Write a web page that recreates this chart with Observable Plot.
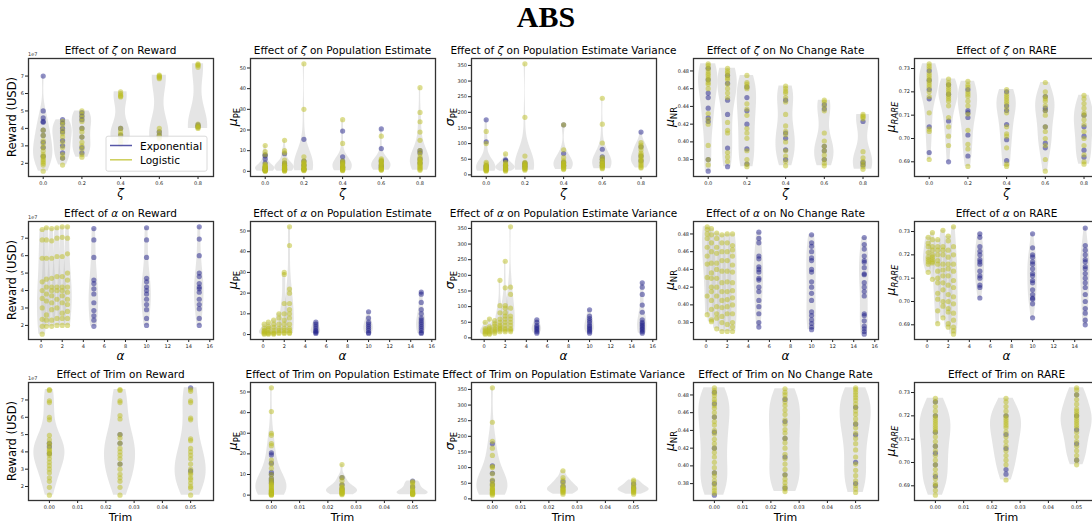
<!DOCTYPE html>
<html><head><meta charset="utf-8">
<script src="https://cdn.jsdelivr.net/npm/d3@7"></script>
<script src="https://cdn.jsdelivr.net/npm/@observablehq/plot@0.6"></script>
<style>
body{margin:0;background:#fff;font-family:"DejaVu Sans",sans-serif;}
#fig{position:relative;width:1092px;height:523px;overflow:hidden;background:#fff;}
#title{position:absolute;left:0;top:0;width:1092px;text-align:center;font:bold 30px "Liberation Serif","Times New Roman",serif;line-height:34px;color:#000;}
.panel{position:absolute;}
.panel svg{overflow:visible;max-width:none;}
</style></head><body><div id="fig"><div id="title">ABS</div></div>
<script>
// ---------- parameter positions & ticks ----------
const zeta = [0, 0.1, 0.2, 0.4, 0.6, 0.8];
const alphaLog = [0.1, 0.5, 1, 1.5, 2, 2.5];
const alphaExp = [5, 10, 15];
const trim = [0, 0.025, 0.05];

const xTicksZeta = [0, 0.2, 0.4, 0.6, 0.8];
const xTicksAlpha = [0, 2, 4, 6, 8, 10, 12, 14, 16];
const xTicksTrim = [0, 0.01, 0.02, 0.03, 0.04, 0.05];
const yTicksReward = [2, 3, 4, 5, 6, 7];
const yTicksPE = [0, 10, 20, 30, 40, 50];
const yTicksSD = [0, 50, 100, 150, 200, 250, 300, 350];
const yTicksNR = [0.38, 0.40, 0.42, 0.44, 0.46, 0.48];
const yTicksRARE = [0.69, 0.70, 0.71, 0.72, 0.73];

// ---------- Row 1: effect of zeta ----------
const rewardZetaExp = [
 [7.0, 5.0, 4.6, 4.4, 4.35, 3.9, 3.6, 3.2, 2.9, 2.4],
 [4.5, 4.3, 4.0, 3.8, 3.3, 3.0, 2.6, 2.3],
 [4.9, 4.7, 4.5, 4.0, 3.5, 2.9, 2.6],
 [4.0, 3.6],
 [3.8, 3.6],
 [4.2, 4.1]];
const rewardZetaLog = [
 [3.9, 3.6, 3.3, 3.1, 2.9, 2.7, 2.5, 2.4, 2.3, 2.2, 2.1, 2.0, 1.9, 1.55],
 [4.4, 4.2, 3.9, 3.7, 3.5, 3.2, 2.9, 2.5, 2.3, 1.9],
 [5.0, 4.8, 4.6, 4.4, 4.0, 3.8, 3.5, 3.2, 3.0, 2.8, 2.5, 2.35],
 [6.1, 6.0, 5.9, 5.85, 5.8, 4.0, 3.8, 3.65, 3.5, 3.3, 3.1],
 [7.05, 7.0, 6.95, 6.9, 6.85, 4.0, 3.8, 3.6, 3.5, 3.4],
 [7.7, 7.65, 7.6, 7.5, 4.25, 4.15, 4.1, 4.05, 4.0]];
const peZetaExp = [
 [8, 7.5, 6, 4, 2, 1, 0.5],
 [8.5, 4, 3, 1],
 [15.5, 5, 3, 1],
 [19.5, 7, 5, 4, 2],
 [20.5, 11, 5, 3, 2],
 [10, 9, 6, 4]];
const peZetaLog = [
 [12.5, 9.5, 8, 3.5, 3, 2.5, 2.2, 2, 1.8, 1.5, 1.2, 1, 0.8, 0.6, 0.5, 0.3, 0.2, 0.1],
 [15, 10, 9, 5.5, 4, 3.5, 3, 2.5, 2, 1.8, 1.5, 1.2, 1, 0.8, 0.5, 0.3, 0.1],
 [52, 30, 7, 5, 4.5, 4, 3.5, 3, 2.5, 2, 1.5, 1.2, 1, 0.8, 0.5, 0.3],
 [25, 13.5, 5, 4.5, 4, 3.5, 3, 2.5, 2, 1.8, 1.5, 1.2, 1, 0.8, 0.5, 0.3],
 [17, 6, 5.5, 5, 4.5, 4, 3.5, 3, 2.5, 2, 1.5, 1.2, 1, 0.8, 0.5],
 [40.5, 28.5, 24, 19, 15, 10, 8.5, 7, 6, 5.5, 5, 4.5, 4, 3.5, 3, 2.5, 2, 1.5, 1, 0.5]];
const sdZetaExp = [
 [176, 106, 30, 25, 20],
 [48, 45, 30, 20],
 [38, 32, 25],
 [160, 68, 40, 30],
 [82, 58, 50, 40, 30],
 [137, 90, 60, 45]];
const sdZetaLog = [
 [139, 100, 40, 35, 30, 28, 26, 24, 22, 20, 18, 16, 15, 14, 12],
 [67, 40, 35, 32, 30, 28, 25, 22, 20, 18, 16, 15, 12],
 [355, 184, 60, 40, 38, 35, 32, 30, 28, 25, 22, 20, 18, 15],
 [160, 80, 55, 45, 40, 38, 35, 32, 30, 28, 25, 22, 20, 17],
 [245, 162, 102, 55, 50, 45, 40, 38, 35, 32, 30, 28, 25, 22, 20],
 [103, 95, 88, 80, 70, 65, 60, 55, 50, 45, 40, 35, 30, 25, 22]];
const nrZetaExp = [
 [0.483, 0.47, 0.455, 0.45, 0.438, 0.427, 0.423, 0.38, 0.367],
 [0.475, 0.466, 0.447, 0.431, 0.393, 0.372],
 [0.462, 0.45, 0.435, 0.42, 0.392, 0.375],
 [0.447, 0.41, 0.404, 0.391, 0.38],
 [0.442, 0.437, 0.395, 0.39, 0.38],
 [0.423, 0.377, 0.374]];
const nrZetaLog = [
 [0.488, 0.486, 0.483, 0.48, 0.477, 0.475, 0.472, 0.47, 0.467, 0.465, 0.46, 0.432, 0.425, 0.42, 0.396, 0.38, 0.374],
 [0.483, 0.48, 0.478, 0.475, 0.472, 0.47, 0.465, 0.46, 0.455, 0.45, 0.422, 0.413, 0.41, 0.388, 0.383, 0.378],
 [0.475, 0.467, 0.465, 0.462, 0.46, 0.443, 0.437, 0.43, 0.415, 0.41, 0.404, 0.39, 0.38, 0.375, 0.372],
 [0.463, 0.46, 0.457, 0.455, 0.45, 0.445, 0.431, 0.418, 0.412, 0.408, 0.4, 0.39, 0.384, 0.378, 0.373],
 [0.447, 0.445, 0.44, 0.435, 0.41, 0.401, 0.395, 0.39, 0.385, 0.38, 0.376, 0.373],
 [0.431, 0.429, 0.428, 0.426, 0.389, 0.382, 0.378, 0.375, 0.372, 0.369]];
const rareZetaExp = [
 [0.729, 0.725, 0.721, 0.717, 0.705, 0.694],
 [0.723, 0.719, 0.7075, 0.69],
 [0.721, 0.712, 0.711, 0.709, 0.7015, 0.6925],
 [0.72, 0.714, 0.712, 0.706, 0.6995, 0.6905],
 [0.718, 0.713, 0.712, 0.705, 0.698, 0.696],
 [0.71, 0.705, 0.701, 0.695, 0.692]];
const rareZetaLog = [
 [0.732, 0.731, 0.73, 0.728, 0.727, 0.726, 0.725, 0.724, 0.723, 0.722, 0.72, 0.718, 0.711, 0.704, 0.703, 0.691],
 [0.7255, 0.724, 0.723, 0.722, 0.721, 0.72, 0.719, 0.718, 0.717, 0.716, 0.714, 0.709, 0.705, 0.701, 0.697],
 [0.7245, 0.723, 0.722, 0.72, 0.719, 0.718, 0.716, 0.714, 0.7105, 0.7035, 0.6975, 0.6955, 0.688],
 [0.721, 0.719, 0.718, 0.717, 0.716, 0.715, 0.713, 0.711, 0.705, 0.702, 0.701, 0.696, 0.689, 0.688],
 [0.724, 0.72, 0.718, 0.717, 0.716, 0.714, 0.712, 0.71, 0.705, 0.703, 0.7, 0.697, 0.691, 0.686],
 [0.7185, 0.717, 0.715, 0.713, 0.711, 0.71, 0.708, 0.706, 0.703, 0.7, 0.697, 0.693, 0.69, 0.689]];

// ---------- Row 2: effect of alpha ----------
const rewardAlphaLog = [
 [7.5, 6.9, 5.85, 4.5, 4.0, 3.55, 3.0, 2.35, 1.95, 1.5],
 [7.6, 6.9, 5.85, 4.65, 4.2, 3.8, 3.4, 2.6, 2.3, 1.95],
 [7.55, 6.85, 5.85, 4.7, 4.2, 4.0, 3.7, 3.3, 2.9, 2.3, 1.95],
 [7.6, 7.0, 5.95, 4.8, 4.2, 4.0, 3.5, 3.0, 2.4, 2.0],
 [7.65, 7.05, 5.95, 4.8, 4.2, 4.0, 3.7, 3.3, 2.7, 2.4, 2.0],
 [7.65, 7.0, 6.1, 5.0, 4.6, 4.2, 3.9, 3.5, 3.2, 2.8, 2.4, 2.0]];
const rewardAlphaExp = [
 [7.55, 6.9, 5.9, 4.6, 4.4, 4.1, 3.8, 3.3, 2.85, 2.55, 2.3, 1.95],
 [7.6, 6.9, 5.9, 4.7, 4.5, 4.2, 4.0, 3.8, 3.5, 3.2, 2.9, 2.4, 2.0],
 [7.65, 6.95, 6.0, 5.0, 4.8, 4.4, 4.2, 4.1, 3.9, 3.5, 3.2, 2.95, 2.4, 2.0]];
const peAlphaLog = [
 [5, 3, 2, 1.5, 1, 0.5, 0.2],
 [6, 4, 3, 2, 1, 0.5, 0.2],
 [7, 5, 3.5, 2, 1, 0.5, 0.2],
 [10, 8, 5, 3, 2, 1, 0.5],
 [30, 29, 15, 10, 7, 5, 3, 2, 1, 0.5],
 [52, 43, 22, 20, 15, 12, 10, 8, 5, 3, 2, 1, 0.5]];
const peAlphaExp = [
 [6, 5, 4, 3, 2, 1.5, 1, 0.5],
 [11, 8, 6, 5, 4, 3, 2, 1, 0.5],
 [20.5, 19.5, 15.5, 12, 10, 8, 7, 6, 5, 4, 3, 2, 1, 0.5]];
const sdAlphaLog = [
 [50, 30, 25, 20, 15, 12],
 [60, 35, 30, 25, 20, 15, 12],
 [55, 45, 38, 30, 25, 20, 15],
 [184, 103, 80, 60, 50, 40, 35, 30, 25, 20],
 [245, 160, 103, 95, 80, 70, 60, 50, 40, 30, 25, 20],
 [355, 162, 139, 95, 70, 60, 50, 40, 30, 25, 20]];
const sdAlphaExp = [
 [58, 50, 40, 35, 30, 25, 20, 15],
 [90, 70, 62, 55, 48, 40, 35, 30, 25, 20, 15],
 [176, 162, 139, 105, 82, 58, 50, 45, 40, 35, 30, 25, 20, 15]];
const nrAlphaLog = [
 [0.488, 0.485, 0.48, 0.475, 0.465, 0.455, 0.446, 0.431, 0.41, 0.389],
 [0.486, 0.479, 0.47, 0.46, 0.447, 0.436, 0.43, 0.42, 0.415, 0.405, 0.395, 0.383, 0.381],
 [0.481, 0.475, 0.465, 0.458, 0.447, 0.44, 0.43, 0.42, 0.41, 0.398, 0.39, 0.385, 0.373],
 [0.479, 0.47, 0.46, 0.45, 0.438, 0.425, 0.415, 0.405, 0.397, 0.387, 0.38, 0.37],
 [0.48, 0.47, 0.46, 0.45, 0.438, 0.426, 0.415, 0.406, 0.398, 0.39, 0.378, 0.37],
 [0.48, 0.467, 0.462, 0.455, 0.445, 0.437, 0.425, 0.416, 0.408, 0.4, 0.39, 0.38, 0.375, 0.37]];
const nrAlphaExp = [
 [0.482, 0.475, 0.47, 0.455, 0.452, 0.443, 0.44, 0.437, 0.43, 0.428, 0.42, 0.415, 0.405, 0.398, 0.39, 0.38, 0.375],
 [0.479, 0.47, 0.466, 0.46, 0.453, 0.45, 0.44, 0.437, 0.426, 0.42, 0.413, 0.405, 0.392, 0.388, 0.383, 0.379, 0.375, 0.372],
 [0.476, 0.468, 0.463, 0.455, 0.45, 0.448, 0.442, 0.435, 0.434, 0.425, 0.42, 0.415, 0.41, 0.39, 0.388, 0.382, 0.376, 0.373, 0.37, 0.367]];
const rareAlphaLog = [
 [0.7275, 0.725, 0.7235, 0.721, 0.719, 0.718, 0.717, 0.716, 0.7125],
 [0.7295, 0.7265, 0.7235, 0.722, 0.72, 0.719, 0.718, 0.717, 0.7165, 0.7095],
 [0.7265, 0.7235, 0.722, 0.72, 0.7175, 0.716, 0.713, 0.71, 0.708, 0.7035, 0.701, 0.696, 0.6905],
 [0.7305, 0.7235, 0.722, 0.72, 0.716, 0.7135, 0.711, 0.708, 0.705, 0.7, 0.698, 0.693],
 [0.728, 0.726, 0.722, 0.719, 0.716, 0.714, 0.711, 0.707, 0.703, 0.7, 0.697, 0.6955, 0.6905, 0.689],
 [0.732, 0.7235, 0.72, 0.716, 0.713, 0.709, 0.706, 0.702, 0.699, 0.695, 0.692, 0.689, 0.6875, 0.686]];
const rareAlphaExp = [
 [0.729, 0.7275, 0.7235, 0.7215, 0.72, 0.718, 0.717, 0.716, 0.713, 0.711, 0.71, 0.707, 0.706, 0.7015],
 [0.729, 0.723, 0.72, 0.719, 0.717, 0.716, 0.714, 0.712, 0.711, 0.709, 0.708, 0.705, 0.703, 0.7015, 0.701, 0.699, 0.693],
 [0.7315, 0.724, 0.722, 0.72, 0.718, 0.717, 0.715, 0.714, 0.712, 0.71, 0.708, 0.706, 0.703, 0.7, 0.697, 0.695, 0.692, 0.69]];

// ---------- Row 3: effect of trim ----------
const rewardTrimLog = [
 [7.6, 7.55, 6.95, 6.85, 6.0, 5.85, 4.95, 4.7, 4.5, 4.4, 4.2, 4.1, 4.0, 3.9, 3.8, 3.6, 3.4, 3.2, 3.0, 2.8, 2.5, 2.3, 1.95, 1.5],
 [7.6, 7.55, 6.95, 6.85, 6.1, 5.9, 5.0, 4.8, 4.5, 4.2, 4.0, 3.8, 3.6, 3.3, 3.0, 2.7, 2.5, 2.3, 1.95, 1.5],
 [7.6, 7.5, 6.95, 6.85, 5.95, 5.85, 4.75, 4.65, 4.2, 4.0, 3.8, 3.6, 3.3, 3.0, 2.8, 2.7, 2.5, 2.4, 2.2, 2.0, 1.9, 1.5]];
const rewardTrimExp = [[4.5, 4.3, 3.9], [5.0, 4.5, 3.3], [7.7, 2.9]];
const peTrimLog = [
 [52, 40.5, 30, 29, 25, 24, 17, 15, 13, 10, 8, 7, 6, 5.5, 5, 4.5, 4, 3.5, 3, 2.5, 2.2, 2, 1.8, 1.5, 1.2, 1, 0.8, 0.7, 0.5, 0.3, 0.1, 0],
 [14.8, 8.5, 7, 5, 4, 3.5, 3, 2.5, 2.2, 2, 1.8, 1.5, 1.2, 1, 0.8, 0.5, 0.2],
 [6.5, 6, 5, 4, 3, 2.5, 2, 1.5, 1.2, 1, 0.8, 0.6, 0.5, 0.3, 0.2]];
const peTrimExp = [[20.5, 19.5, 15.5, 11, 10, 8, 7, 6], [8.5, 5, 3], [6.8, 4]];
const sdTrimLog = [
 [355, 245, 184, 162, 139, 103, 100, 80, 60, 50, 45, 40, 35, 32, 30, 28, 25, 22, 20, 18, 15, 12],
 [90, 68, 60, 50, 40, 35, 32, 30, 28, 25, 22, 20, 15],
 [60, 55, 45, 40, 35, 32, 30, 28, 25, 22, 20, 15]];
const sdTrimExp = [[176, 106, 82, 58, 45], [55, 40], [48, 35]];
const nrTrimLog = [
 [0.488, 0.485, 0.482, 0.479, 0.475, 0.472, 0.468, 0.465, 0.46, 0.455, 0.45, 0.446, 0.44, 0.436, 0.43, 0.425, 0.42, 0.415, 0.41, 0.404, 0.398, 0.392, 0.388, 0.383, 0.379, 0.375, 0.372, 0.369],
 [0.487, 0.483, 0.48, 0.476, 0.472, 0.468, 0.463, 0.458, 0.452, 0.447, 0.441, 0.437, 0.431, 0.426, 0.42, 0.413, 0.408, 0.402, 0.396, 0.39, 0.385, 0.381, 0.377, 0.374, 0.371],
 [0.488, 0.486, 0.483, 0.48, 0.477, 0.474, 0.47, 0.466, 0.462, 0.458, 0.453, 0.448, 0.443, 0.437, 0.431, 0.425, 0.418, 0.41, 0.402, 0.395, 0.389, 0.383, 0.378, 0.374, 0.37]];
const nrTrimExp = [
 [0.483, 0.47, 0.455, 0.438, 0.42, 0.392, 0.38, 0.367],
 [0.475, 0.45, 0.431, 0.41, 0.39, 0.375],
 [0.466, 0.447, 0.435, 0.404, 0.38]];
const rareTrimLog = [
 [0.7275, 0.726, 0.724, 0.722, 0.72, 0.719, 0.718, 0.717, 0.716, 0.715, 0.714, 0.713, 0.711, 0.709, 0.707, 0.705, 0.703, 0.701, 0.699, 0.697, 0.695, 0.693, 0.691, 0.69, 0.688, 0.686],
 [0.7275, 0.726, 0.724, 0.722, 0.72, 0.719, 0.718, 0.717, 0.716, 0.715, 0.713, 0.711, 0.709, 0.707, 0.705, 0.703, 0.701, 0.699, 0.6925],
 [0.732, 0.731, 0.729, 0.727, 0.725, 0.723, 0.722, 0.721, 0.72, 0.719, 0.718, 0.717, 0.716, 0.715, 0.713, 0.711, 0.709, 0.707, 0.705, 0.703, 0.701, 0.699]];
const rareTrimExp = [
 [0.726, 0.72, 0.713, 0.707, 0.704, 0.699, 0.694, 0.69],
 [0.72, 0.712, 0.706, 0.697, 0.695],
 [0.729, 0.72, 0.714, 0.708, 0.701]];

// ---------- layout / style ----------
const FW = 185, FH = 118;
const ML = 34, MR = 8, MT = 24, MB = 28;
const colLeft = [28, 249.5, 471, 693, 914];
const rowTop = [57.5, 221, 382];
const PAGE_W = 1092;
const EXP = "#1f1f8a", LOG = "#bcbd22";
const FONT = "DejaVu Sans";

const metrics = [
  {name: "Reward", ylab: [{t: "Reward (USD)"}], yTicks: yTicksReward, fmt: "d", off: 12, offText: "1e7"},
  {name: "Population Estimate", ylab: [{t: "μ", i: 1, s: 12.5}, {t: "PE", sub: 1, s: 8.5}], yTicks: yTicksPE, fmt: "d", off: 13},
  {name: "Population Estimate Variance", ylab: [{t: "σ", i: 1, s: 12.5}, {t: "PE", sub: 1, s: 8.5}], yTicks: yTicksSD, fmt: "d", off: 17.5},
  {name: "No Change Rate", ylab: [{t: "μ", i: 1, s: 12.5}, {t: "NR", sub: 1, s: 8.5}], yTicks: yTicksNR, fmt: ".2f", off: 19.5},
  {name: "RARE", ylab: [{t: "μ", i: 1, s: 12.5}, {t: "RARE", sub: 1, i: 1, s: 8.5}], yTicks: yTicksRARE, fmt: ".2f", off: 19.5}
];
const rows = [
  {param: [{t: "ζ", i: 1}], xlab: [{t: "ζ", i: 1, s: 12}], xDomain: [-0.076, 0.88], xTicks: xTicksZeta, fmt: ".1f", vw: 0.1,
   expPos: zeta, logPos: zeta,
   exp: [rewardZetaExp, peZetaExp, sdZetaExp, nrZetaExp, rareZetaExp],
   log: [rewardZetaLog, peZetaLog, sdZetaLog, nrZetaLog, rareZetaLog]},
  {param: [{t: "α", i: 1}], xlab: [{t: "α", i: 1, s: 12}], xDomain: [-1.2, 16.35], xTicks: xTicksAlpha, fmt: "d", vw: 0.9,
   expPos: alphaExp, logPos: alphaLog,
   exp: [rewardAlphaExp, peAlphaExp, sdAlphaExp, nrAlphaExp, rareAlphaExp],
   log: [rewardAlphaLog, peAlphaLog, sdAlphaLog, nrAlphaLog, rareAlphaLog]},
  {param: [{t: "Trim"}], xlab: [{t: "Trim", s: 11}], xDomain: [-0.0074, 0.0581], xTicks: xTicksTrim, fmt: ".2f", vw: 0.011,
   expPos: trim, logPos: trim,
   exp: [rewardTrimExp, peTrimExp, sdTrimExp, nrTrimExp, rareTrimExp],
   log: [rewardTrimLog, peTrimLog, sdTrimLog, nrTrimLog, rareTrimLog]}
];

// Gaussian KDE (Scott's rule), like matplotlib's violinplot
function violin(pos, vals, width) {
  const n = vals.length;
  const sd = n > 1 ? d3.deviation(vals) : 0;
  const bw = (sd * Math.pow(n, -0.2)) || 1e-9;
  const lo = d3.min(vals), hi = d3.max(vals);
  const out = [];
  for (let i = 0; i < 100; i++) {
    const y = lo + (hi - lo) * i / 99;
    let s = 0;
    for (const v of vals) { const u = (y - v) / bw; s += Math.exp(-0.5 * u * u); }
    out.push({y, s});
  }
  const m = d3.max(out, d => d.s);
  return out.map(d => ({g: pos, y: d.y, x1: pos - 0.5 * width * d.s / m, x2: pos + 0.5 * width * d.s / m}));
}

function rich(sel, segs, {x, y, size, anchor = "middle", rotate = 0, fill = "#000"}) {
  const t = sel.append("text")
    .attr("transform", `translate(${x},${y}) rotate(${rotate})`)
    .attr("text-anchor", anchor).attr("font-family", FONT)
    .attr("font-size", size).attr("fill", fill);
  for (const s of segs) {
    const sp = t.append("tspan").text(s.t);
    if (s.i) sp.attr("font-style", "italic");
    if (s.s) sp.attr("font-size", s.s);
    if (s.sub) sp.attr("dy", 3);
  }
  return t;
}

const fig = document.getElementById("fig");

rows.forEach((row, r) => {
  metrics.forEach((met, c) => {
    const expPts = [], logPts = [], groups = new Map();
    row.exp[c].forEach((vals, k) => { const p = row.expPos[k]; vals.forEach(v => expPts.push({x: p, v})); if (!groups.has(p)) groups.set(p, []); groups.get(p).push(...vals); });
    row.log[c].forEach((vals, k) => { const p = row.logPos[k]; vals.forEach(v => logPts.push({x: p, v})); if (!groups.has(p)) groups.set(p, []); groups.get(p).push(...vals); });
    const vData = [];
    for (const [p, vals] of groups) vData.push(...violin(p, vals, row.vw));
    const all = expPts.concat(logPts).map(d => d.v);
    const lo = d3.min(all), hi = d3.max(all), rg = hi - lo;
    const yDomain = [lo - 0.05 * rg, hi + 0.05 * rg];
    const yT = met.yTicks.filter(t => t >= yDomain[0] && t <= yDomain[1]);
    const [d0, d1] = row.xDomain;
    // keep only ticks inside the domain whose label is not cut by the page edge
    const xT = row.xTicks.filter(t => t >= d0 && t <= d1 && colLeft[c] + (t - d0) / (d1 - d0) * FW < PAGE_W - 3);

    const svg = Plot.plot({
      width: ML + FW + MR, height: MT + FH + MB,
      marginLeft: ML, marginRight: MR, marginTop: MT, marginBottom: MB,
      style: {background: "transparent", fontFamily: FONT, color: "#222", overflow: "visible"},
      x: {type: "linear", domain: row.xDomain},
      y: {type: "linear", domain: yDomain},
      marks: [
        Plot.areaX(vData, {y: "y", x1: "x1", x2: "x2", z: "g", fill: "#bfbfbf", fillOpacity: 0.4, curve: "linear"}),
        Plot.dot(expPts, {x: "x", y: "v", r: 2.6, fill: EXP, fillOpacity: 0.5}),
        Plot.dot(logPts, {x: "x", y: "v", r: 2.6, fill: LOG, fillOpacity: 0.5}),
        Plot.axisX({ticks: xT, tickFormat: d3.format(row.fmt), tickSize: 3, tickPadding: 1.5, fontSize: 5, label: null}),
        Plot.axisY({ticks: yT, tickFormat: d3.format(met.fmt), tickSize: 3, tickPadding: 1.5, fontSize: 5, label: null}),
        Plot.frame({stroke: "#333", strokeWidth: 1.3})
      ]
    });
    const div = document.createElement("div");
    div.className = "panel";
    div.style.left = (colLeft[c] - ML) + "px";
    div.style.top = (rowTop[r] - MT) + "px";
    div.style.width = (ML + FW + MR) + "px";
    div.appendChild(svg);
    fig.appendChild(div);

    const s = d3.select(svg);
    rich(s, [{t: "Effect of "}, ...row.param, {t: " on " + met.name}], {x: ML + FW / 2, y: MT - 4, size: 10.5});
    rich(s, row.xlab, {x: ML + FW / 2, y: MT + FH + 21, size: 12});
    rich(s, met.ylab, {x: ML - met.off, y: MT + FH / 2, size: 11.5, rotate: -90});
    if (met.offText) rich(s, [{t: met.offText}], {x: ML, y: MT - 2, size: 5, anchor: "start", fill: "#333"});

    if (r === 0 && c === 0) {
      const g = s.append("g").attr("transform", `translate(${ML},${MT})`);
      g.append("rect").attr("x", 78).attr("y", 78.2).attr("width", 101).attr("height", 35)
        .attr("rx", 2).attr("fill", "#fff").attr("fill-opacity", 0.85).attr("stroke", "#d0d0d0").attr("stroke-width", 0.8);
      [["Exponential", EXP, 87.5], ["Logistic", LOG, 101.8]].forEach(([lab, col, yy]) => {
        g.append("line").attr("x1", 82).attr("x2", 104).attr("y1", yy).attr("y2", yy)
          .attr("stroke", col).attr("stroke-opacity", 0.75).attr("stroke-width", 1.5);
        g.append("text").attr("x", 112).attr("y", yy + 4).attr("text-anchor", "start")
          .attr("font-family", FONT).attr("font-size", 10.5).attr("fill", "#000").text(lab);
      });
    }
  });
});
</script>
</body></html>
